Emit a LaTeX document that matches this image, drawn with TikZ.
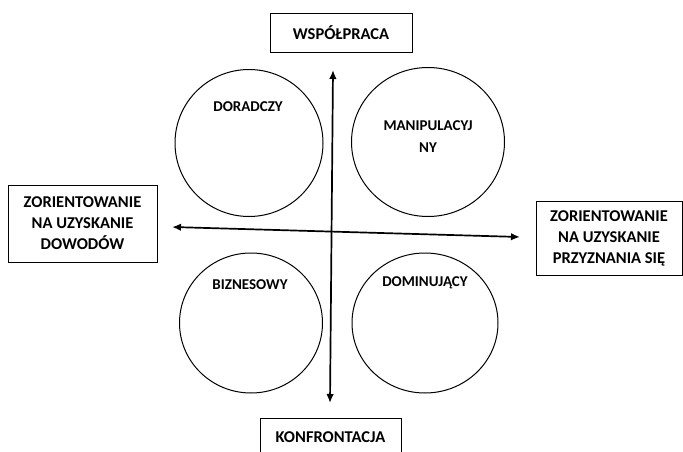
\documentclass[tikz,border=0pt]{standalone}
\usepackage{fontspec}
\setmainfont{Carlito}
\usetikzlibrary{arrows.meta,shapes.geometric}

\begin{document}
\begin{tikzpicture}[x=1pt, y=-1pt,
    box/.style={draw, line width=0.9pt, align=center, inner sep=0pt,
      font=\fontsize{16.5}{21}\selectfont\bfseries},
    ring/.style={draw, ellipse, line width=1pt, inner sep=0pt},
    lbl/.style={align=center, font=\fontsize{15}{22}\selectfont\bfseries},
    axis/.style={{Latex[length=9pt,width=7.5pt]}-{Latex[length=9pt,width=7.5pt]}, line width=1.7pt}]
  \useasboundingbox (0,0) rectangle (683,452);
  % boxes
  \node[box, minimum width=142pt, minimum height=39pt] at (341,32.5) (coop) {WSPÓŁPRACA};
  \node[box, minimum width=141pt, minimum height=39pt] at (330.5,437.5) (conf) {KONFRONTACJA};
  \node[box, minimum width=149pt, minimum height=77pt] at (82.5,223.5) (proof) {ZORIENTOWANIE\\NA UZYSKANIE\\DOWODÓW};
  \node[box, minimum width=146pt, minimum height=74pt] at (609,238) (admit) {ZORIENTOWANIE\\NA UZYSKANIE\\PRZYZNANIA SIĘ};
  % circles
  \node[ring, minimum width=148pt, minimum height=147pt] at (249,143) (advisor) {};
  \node[ring, minimum width=153pt, minimum height=149pt] at (428,142) (manip) {};
  \node[ring, minimum width=143pt, minimum height=140pt] at (251,323) (business) {};
  \node[ring, minimum width=146pt, minimum height=140pt] at (425,323) (domin) {};
  \node[lbl] at (248,107) (advisor-t) {DORADCZY};
  \node[lbl] at (428,136.5) (manip-t) {MANIPULACYJ\\NY};
  \node[lbl] at (250,285) (business-t) {BIZNESOWY};
  \node[lbl] at (425,283) (domin-t) {DOMINUJĄCY};
  % axes
  \coordinate (up) at (333,70);
  \coordinate (down) at (330,403);
  \coordinate (west) at (172,227);
  \coordinate (east) at (520,237);
  \draw[axis] (down) -- (up);
  \draw[axis] (west) -- (east);
\end{tikzpicture}
\end{document}
